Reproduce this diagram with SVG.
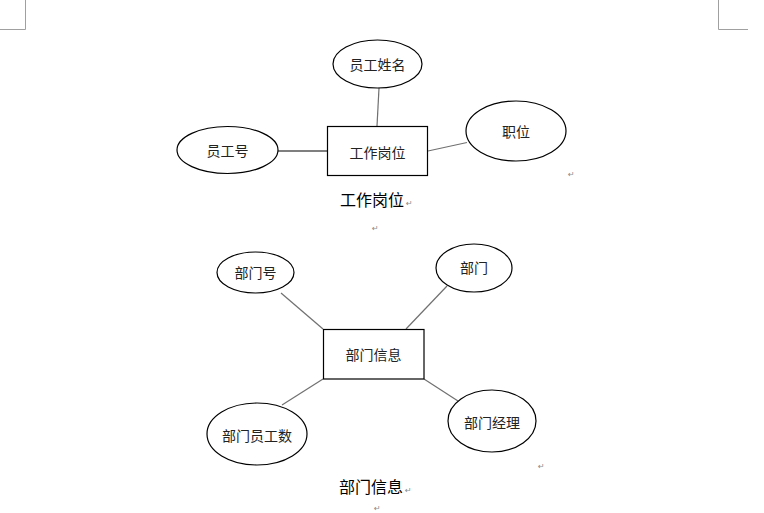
<svg xmlns="http://www.w3.org/2000/svg" width="764" height="513" viewBox="0 0 764 513">
<style>
.n{fill:#fff;stroke:#000;stroke-width:1.2}
.t{font-family:"Noto Sans CJK SC","Noto Sans CJK JP",sans-serif;font-size:14px;fill:#222;text-anchor:middle;dominant-baseline:central}
.cap{font-family:"Noto Sans CJK SC","Noto Sans CJK JP",sans-serif;font-size:16px;fill:#000;text-anchor:middle}
.pm{font-family:"DejaVu Sans",sans-serif;font-size:8px;fill:#888}
.c{stroke:#707070;stroke-width:1.2;fill:none}
.k{stroke:#000;stroke-width:1.2;fill:none}
.crn{stroke:#a0a0a0;stroke-width:1;fill:none}
</style>
<g id="corners">
<path class="crn" d="M25.5,0 V29.5 H0"/>
<path class="crn" d="M718.5,0 V29.5 H748"/>
</g>
<g id="connectors">
<line class="c" x1="379" y1="88" x2="377" y2="126"/>
<line class="k" x1="278" y1="151" x2="327" y2="151"/>
<line class="c" x1="428" y1="151" x2="467" y2="142.5"/>
<line class="c" x1="281" y1="293" x2="323" y2="329"/>
<line class="c" x1="447" y1="286" x2="406" y2="329"/>
<line class="c" x1="323" y1="379" x2="282" y2="405"/>
<line class="c" x1="424" y1="379" x2="458" y2="401"/>
</g>
<g id="n-gwgw">
<rect class="n" x="327.5" y="126.5" width="100" height="49"/>
<text class="t" x="377.5" y="152">工作岗位</text>
</g>
<g id="n-ygxm">
<ellipse class="n" cx="377.5" cy="64" rx="44.5" ry="24"/>
<text class="t" x="377.5" y="64">员工姓名</text>
</g>
<g id="n-ygh">
<ellipse class="n" cx="227.5" cy="150" rx="50.5" ry="23.5"/>
<text class="t" x="227.5" y="150">员工号</text>
</g>
<g id="n-zw">
<ellipse class="n" cx="516" cy="131" rx="50" ry="30"/>
<text class="t" x="516" y="131">职位</text>
</g>
<g id="n-bmxx">
<rect class="n" x="323.5" y="329.5" width="100.5" height="49.5"/>
<text class="t" x="373.5" y="354">部门信息</text>
</g>
<g id="n-bmh">
<ellipse class="n" cx="255.5" cy="272.5" rx="38.5" ry="20.5"/>
<text class="t" x="255.5" y="272">部门号</text>
</g>
<g id="n-bm">
<ellipse class="n" cx="474" cy="268" rx="38" ry="24"/>
<text class="t" x="474" y="267">部门</text>
</g>
<g id="n-bmygs">
<ellipse class="n" cx="257" cy="434" rx="50" ry="31"/>
<text class="t" x="257" y="435">部门员工数</text>
</g>
<g id="n-bmjl">
<ellipse class="n" cx="492" cy="421" rx="44" ry="31"/>
<text class="t" x="492" y="422">部门经理</text>
</g>
<g id="captions">
<text class="cap" x="372" y="206">工作岗位</text>
<text class="cap" x="371" y="493">部门信息</text>
</g>
<g id="marks">
<text class="pm" x="568" y="177">↵</text>
<text class="pm" x="406" y="206">↵</text>
<text class="pm" x="372" y="231">↵</text>
<text class="pm" x="538" y="469">↵</text>
<text class="pm" x="405" y="493">↵</text>
<text class="pm" x="374" y="511">↵</text>
</g>
</svg>
